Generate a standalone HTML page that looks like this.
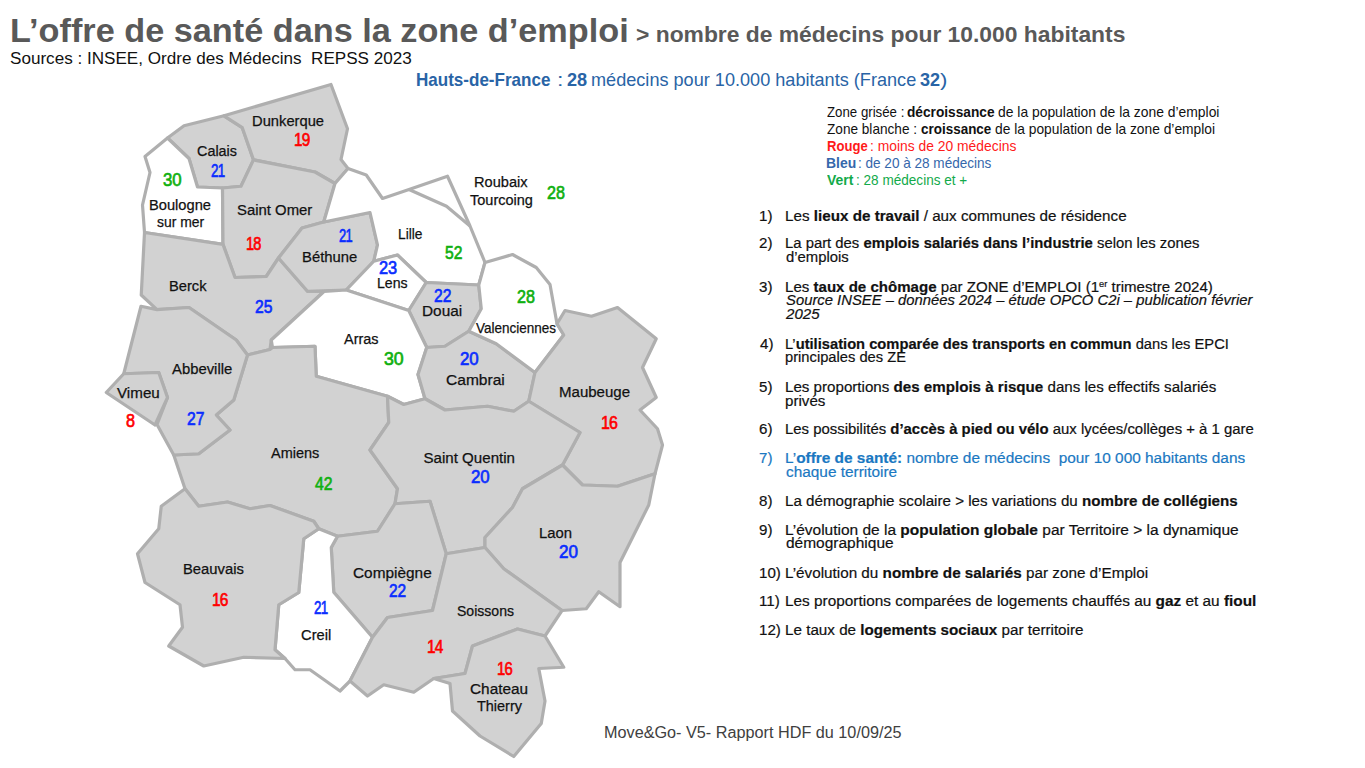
<!DOCTYPE html><html><head><meta charset="utf-8"><style>
html,body{margin:0;padding:0;width:1365px;height:768px;overflow:hidden;background:#fff;}
body{position:relative;font-family:"Liberation Sans",sans-serif;}
.t{position:absolute;white-space:nowrap;line-height:1;transform-origin:0 0;}
.L{-webkit-text-stroke:0.2px currentColor}
sup{font-size:0.62em;vertical-align:0;position:relative;top:-0.55em;line-height:0}
svg{position:absolute;left:0;top:0}
</style></head><body>

<svg width="1365" height="768" viewBox="0 0 1365 768">
<g stroke="#afafaf" stroke-width="3.2" stroke-linejoin="round">
<polygon points="167.5,138 184,125.8 224,115.8 242.3,127.7 253.5,159.9 241,186.25 222.5,188 197.5,187 189,158.5" fill="#d2d2d2"/>
<polygon points="224,115.8 331,84.5 347.5,128.75 341,159.5 348,168.5 335,183.5 315,172 253.5,159.9 242.3,127.7" fill="#d2d2d2"/>
<polygon points="145,156.5 167.5,138 189,158.5 197.5,187 222.5,188 223,244.4 144.5,232.5 142.5,205 150,172.5" fill="#fff"/>
<polygon points="253.5,159.9 315,172 335,183.5 323.75,222 302,228 278.5,258 266.25,276.5 235,277.5 223,244.4 222.5,188 241,186.25" fill="#d2d2d2"/>
<polygon points="144.5,232.5 223,244.4 235,277.5 266.25,276.5 278.5,258 307.5,291.25 324,291.5 271.25,340 270,349.5 247.5,355 236.25,340 189,307.5 157,309.6 141.25,295" fill="#d2d2d2"/>
<polygon points="302,228 323.75,222 370,212.5 377.5,245 373.75,261.25 346.25,290 307.5,291.25 278.5,258" fill="#d2d2d2"/>
<polygon points="348,168.5 366.25,175 382.5,198.5 409,189.5 447.5,176.25 470,226 485,262.5 478.75,285 426.25,282.5 397.5,255 373.75,261.25 377.5,245 370,212.5 323.75,222 335,183.5" fill="#fff"/>
<polygon points="373.75,261.25 397.5,255 426.25,282.5 408.75,310.5 346.25,290" fill="#fff"/>
<polygon points="426.25,282.5 478.75,285 481.25,308.75 468.75,331.25 445,346.25 426.75,347.5 408.75,310.5" fill="#d2d2d2"/>
<polygon points="324,291.5 346.25,290 408.75,310.5 426.75,347.5 418,374.5 425,398.75 403.75,404.5 387.5,396.25 316.25,376.25 315,346.25 272.5,347.5 271.25,340" fill="#fff"/>
<polygon points="247.5,355 270,349.5 272.5,347.5 315,346.25 316.25,376.25 387.5,396.25 388.75,422.5 370,450 397.5,488.75 395,503.75 377.5,531.25 337.5,536.25 318.75,528.75 313.75,521.25 270,505.5 250,508.75 227.5,502 198.75,506.25 185,488.75 173.75,455 198.75,453.75 230,430 216.25,415 233.75,400" fill="#d2d2d2"/>
<polygon points="141,306.25 157,309.6 189,307.5 236.25,340 247.5,355 233.75,400 216.25,415 230,430 198.75,453.75 173.75,455 157,424.5 167.5,397.5 158.75,372.5 123.75,373.75" fill="#d2d2d2"/>
<polygon points="123.75,373.75 158.75,372.5 167.5,397.5 155,425 106.25,392.5" fill="#d2d2d2"/>
<polygon points="426.75,347.5 445,346.25 468.75,331.25 496.25,343.75 535,372.5 528.75,401.25 513.75,411.25 487.5,406.25 445,410 425,398.75 418,374.5" fill="#d2d2d2"/>
<polygon points="478.75,285 485,262.5 512.5,254.5 536.25,267.5 550,284.5 557,323.75 563.75,335 535,372.5 496.25,343.75 468.75,331.25 481.25,308.75" fill="#fff"/>
<polygon points="557,323.75 565,310.5 591.5,316.25 617.5,307.5 656.25,338.75 642.5,367.5 656.25,397.5 640,410 657.5,428.75 662.5,445 655,473.75 617.5,486.25 582.5,485 562.5,465 580,432.5 528.75,401.25 535,372.5 563.75,335" fill="#d2d2d2"/>
<polygon points="370,450 388.75,422.5 387.5,396.25 403.75,404.5 425,398.75 445,410 487.5,406.25 513.75,411.25 528.75,401.25 580,432.5 562.5,465 522.5,488.75 512.5,507.5 485,537.5 485,547.5 446.25,553.75 430,501.25 395,503.75 397.5,488.75" fill="#d2d2d2"/>
<polygon points="562.5,465 582.5,485 617.5,486.25 655,473.75 648.75,505 620,562.5 620,606.75 598.75,591.75 586.25,608.75 562,610.5 503.75,568.75 485,547.5 485,537.5 512.5,507.5 522.5,488.75" fill="#d2d2d2"/>
<polygon points="337.5,536.25 377.5,531.25 395,503.75 430,501.25 446.25,553.75 432.5,610.5 387.5,617.5 372.5,637.25 333.75,592.25 331.25,547.5" fill="#d2d2d2"/>
<polygon points="318.75,528.75 337.5,536.25 331.25,547.5 333.75,592.25 372.5,637.25 350,681 340,691 310,669.75 295,669.75 285,658.5 275,649.75 278.75,604.75 298.75,592.5 303.75,538.75" fill="#fff"/>
<polygon points="185,488.75 198.75,506.25 227.5,502 250,508.75 270,505.5 313.75,521.25 318.75,528.75 303.75,538.75 298.75,592.5 278.75,604.75 275,649.75 285,658.5 243.75,657.25 203.75,666 168.75,646 182.5,627.25 180,604.75 145,582.5 137.5,553.75 158.75,528.75 161.25,506.25" fill="#d2d2d2"/>
<polygon points="372.5,637.25 387.5,617.5 432.5,610.5 446.25,553.75 485,547.5 503.75,568.75 562,610.5 545,636 517.5,629 472.5,646 465,673.5 433.75,678.5 413.75,692.25 383.75,684.75 367.5,696 350,681" fill="#d2d2d2"/>
<polygon points="433.75,678.5 465,673.5 472.5,646 517.5,629 545,636 563.75,667.25 538.75,668.5 545,701 541.25,723.5 513.75,756.5 480,736 452.5,711 450,683.5" fill="#d2d2d2"/>
<polyline points="409,189.5 446.5,206.25 470,226" fill="none"/>
</g></svg>
<div class="t" id="t0" style="left:252.01px;top:113.47px;font-size:15.1px;font-weight:400;color:#111111;transform:scaleX(0.9760);-webkit-text-stroke:0.25px #111;">Dunkerque</div>
<div class="t" id="t1" style="left:293.53px;top:131.99px;font-size:17.5px;font-weight:400;color:#ff0000;transform:scaleX(0.8750);-webkit-text-stroke:0.65px #ff0000;letter-spacing:-1px;">19</div>
<div class="t" id="t2" style="left:197.02px;top:143.47px;font-size:15.1px;font-weight:400;color:#111111;transform:scaleX(0.9524);-webkit-text-stroke:0.25px #111;">Calais</div>
<div class="t" id="t3" style="left:210.68px;top:162.74px;font-size:17.5px;font-weight:400;color:#0a2dff;transform:scaleX(0.7639);-webkit-text-stroke:0.65px #0a2dff;letter-spacing:-1px;">21</div>
<div class="t" id="t4" style="left:163.00px;top:171.99px;font-size:17.5px;font-weight:400;color:#10b010;transform:scaleX(0.9605);-webkit-text-stroke:0.65px #10b010;">30</div>
<div class="t" id="t5" style="left:149.03px;top:196.72px;font-size:15.1px;font-weight:400;color:#111111;transform:scaleX(0.9722);-webkit-text-stroke:0.25px #111;">Boulogne</div>
<div class="t" id="t6" style="left:157.00px;top:214.22px;font-size:15.1px;font-weight:400;color:#111111;transform:scaleX(0.9231);-webkit-text-stroke:0.25px #111;">sur mer</div>
<div class="t" id="t7" style="left:237.01px;top:202.22px;font-size:15.1px;font-weight:400;color:#111111;transform:scaleX(0.9868);-webkit-text-stroke:0.25px #111;">Saint Omer</div>
<div class="t" id="t8" style="left:245.54px;top:236.49px;font-size:17.5px;font-weight:400;color:#ff0000;transform:scaleX(0.8333);-webkit-text-stroke:0.65px #ff0000;letter-spacing:-1px;">18</div>
<div class="t" id="t9" style="left:338.57px;top:227.74px;font-size:17.5px;font-weight:400;color:#0a2dff;transform:scaleX(0.7361);-webkit-text-stroke:0.65px #0a2dff;letter-spacing:-1px;">21</div>
<div class="t" id="t10" style="left:302.01px;top:248.97px;font-size:15.1px;font-weight:400;color:#111111;transform:scaleX(0.9821);-webkit-text-stroke:0.25px #111;">Béthune</div>
<div class="t" id="t11" style="left:397.61px;top:225.97px;font-size:15.1px;font-weight:400;color:#111111;transform:scaleX(0.9135);-webkit-text-stroke:0.25px #111;">Lille</div>
<div class="t" id="t12" style="left:473.52px;top:174.22px;font-size:15.1px;font-weight:400;color:#111111;transform:scaleX(0.9682);-webkit-text-stroke:0.25px #111;">Roubaix</div>
<div class="t" id="t13" style="left:470.00px;top:191.72px;font-size:15.1px;font-weight:400;color:#111111;transform:scaleX(0.9615);-webkit-text-stroke:0.25px #111;">Tourcoing</div>
<div class="t" id="t14" style="left:547.04px;top:185.24px;font-size:17.5px;font-weight:400;color:#10b010;transform:scaleX(0.9211);-webkit-text-stroke:0.65px #10b010;">28</div>
<div class="t" id="t15" style="left:445.05px;top:245.24px;font-size:17.5px;font-weight:400;color:#10b010;transform:scaleX(0.8947);-webkit-text-stroke:0.65px #10b010;">52</div>
<div class="t" id="t16" style="left:378.55px;top:260.24px;font-size:17.5px;font-weight:400;color:#0a2dff;transform:scaleX(0.9342);-webkit-text-stroke:0.65px #0a2dff;">23</div>
<div class="t" id="t17" style="left:377.03px;top:274.72px;font-size:15.1px;font-weight:400;color:#111111;transform:scaleX(0.9375);-webkit-text-stroke:0.25px #111;">Lens</div>
<div class="t" id="t18" style="left:433.58px;top:287.74px;font-size:17.5px;font-weight:400;color:#0a2dff;transform:scaleX(0.8947);-webkit-text-stroke:0.65px #0a2dff;">22</div>
<div class="t" id="t19" style="left:422.48px;top:303.47px;font-size:15.1px;font-weight:400;color:#111111;transform:scaleX(1.0197);-webkit-text-stroke:0.25px #111;">Douai</div>
<div class="t" id="t20" style="left:516.52px;top:288.99px;font-size:17.5px;font-weight:400;color:#10b010;transform:scaleX(0.9211);-webkit-text-stroke:0.65px #10b010;">28</div>
<div class="t" id="t21" style="left:476.47px;top:319.72px;font-size:15.1px;font-weight:400;color:#111111;transform:scaleX(0.8944);-webkit-text-stroke:0.25px #111;">Valenciennes</div>
<div class="t" id="t22" style="left:343.51px;top:330.97px;font-size:15.1px;font-weight:400;color:#111111;transform:scaleX(0.9583);-webkit-text-stroke:0.25px #111;">Arras</div>
<div class="t" id="t23" style="left:169.03px;top:277.72px;font-size:15.1px;font-weight:400;color:#111111;transform:scaleX(0.9737);-webkit-text-stroke:0.25px #111;">Berck</div>
<div class="t" id="t24" style="left:255.05px;top:298.99px;font-size:17.5px;font-weight:400;color:#0a2dff;transform:scaleX(0.8947);-webkit-text-stroke:0.65px #0a2dff;">25</div>
<div class="t" id="t25" style="left:383.50px;top:350.99px;font-size:17.5px;font-weight:400;color:#10b010;transform:scaleX(1.0132);-webkit-text-stroke:0.65px #10b010;">30</div>
<div class="t" id="t26" style="left:171.50px;top:360.97px;font-size:15.1px;font-weight:400;color:#111111;transform:scaleX(0.9836);-webkit-text-stroke:0.25px #111;">Abbeville</div>
<div class="t" id="t27" style="left:117.00px;top:385.22px;font-size:15.1px;font-weight:400;color:#111111;transform:scaleX(1.0060);-webkit-text-stroke:0.25px #111;">Vimeu</div>
<div class="t" id="t28" style="left:126.48px;top:412.74px;font-size:17.5px;font-weight:400;color:#ff0000;transform:scaleX(0.9250);-webkit-text-stroke:0.65px #ff0000;">8</div>
<div class="t" id="t29" style="left:187.05px;top:410.74px;font-size:17.5px;font-weight:400;color:#0a2dff;transform:scaleX(0.8947);-webkit-text-stroke:0.65px #0a2dff;">27</div>
<div class="t" id="t30" style="left:460.00px;top:351.49px;font-size:17.5px;font-weight:400;color:#0a2dff;transform:scaleX(0.9625);-webkit-text-stroke:0.65px #0a2dff;">20</div>
<div class="t" id="t31" style="left:446.49px;top:372.22px;font-size:15.1px;font-weight:400;color:#111111;transform:scaleX(1.0312);-webkit-text-stroke:0.25px #111;">Cambrai</div>
<div class="t" id="t32" style="left:558.50px;top:384.22px;font-size:15.1px;font-weight:400;color:#111111;transform:scaleX(0.9965);-webkit-text-stroke:0.25px #111;">Maubeuge</div>
<div class="t" id="t33" style="left:600.57px;top:415.24px;font-size:17.5px;font-weight:400;color:#ff0000;transform:scaleX(0.9118);-webkit-text-stroke:0.65px #ff0000;letter-spacing:-1px;">16</div>
<div class="t" id="t34" style="left:270.98px;top:445.22px;font-size:15.1px;font-weight:400;color:#111111;transform:scaleX(0.9608);-webkit-text-stroke:0.25px #111;">Amiens</div>
<div class="t" id="t35" style="left:314.95px;top:475.99px;font-size:17.5px;font-weight:400;color:#10b010;transform:scaleX(0.9000);-webkit-text-stroke:0.65px #10b010;">42</div>
<div class="t" id="t36" style="left:182.52px;top:560.97px;font-size:15.1px;font-weight:400;color:#111111;transform:scaleX(0.9795);-webkit-text-stroke:0.25px #111;">Beauvais</div>
<div class="t" id="t37" style="left:212.12px;top:591.99px;font-size:17.5px;font-weight:400;color:#ff0000;transform:scaleX(0.8824);-webkit-text-stroke:0.65px #ff0000;letter-spacing:-1px;">16</div>
<div class="t" id="t38" style="left:353.49px;top:564.72px;font-size:15.1px;font-weight:400;color:#111111;transform:scaleX(1.0197);-webkit-text-stroke:0.25px #111;">Compiègne</div>
<div class="t" id="t39" style="left:388.53px;top:582.74px;font-size:17.5px;font-weight:400;color:#0a2dff;transform:scaleX(0.8816);-webkit-text-stroke:0.65px #0a2dff;">22</div>
<div class="t" id="t40" style="left:314.12px;top:600.24px;font-size:17.5px;font-weight:400;color:#0a2dff;transform:scaleX(0.7639);-webkit-text-stroke:0.65px #0a2dff;letter-spacing:-1px;">21</div>
<div class="t" id="t41" style="left:300.52px;top:626.97px;font-size:15.1px;font-weight:400;color:#111111;transform:scaleX(0.9750);-webkit-text-stroke:0.25px #111;">Creil</div>
<div class="t" id="t42" style="left:423.50px;top:450.22px;font-size:15.1px;font-weight:400;color:#111111;-webkit-text-stroke:0.25px #111;">Saint Quentin</div>
<div class="t" id="t43" style="left:470.53px;top:468.99px;font-size:17.5px;font-weight:400;color:#0a2dff;transform:scaleX(0.9605);-webkit-text-stroke:0.65px #0a2dff;">20</div>
<div class="t" id="t44" style="left:539.01px;top:524.72px;font-size:15.1px;font-weight:400;color:#111111;transform:scaleX(0.9848);-webkit-text-stroke:0.25px #111;">Laon</div>
<div class="t" id="t45" style="left:559.01px;top:543.99px;font-size:17.5px;font-weight:400;color:#0a2dff;transform:scaleX(0.9737);-webkit-text-stroke:0.65px #0a2dff;">20</div>
<div class="t" id="t46" style="left:457.03px;top:603.47px;font-size:15.1px;font-weight:400;color:#111111;transform:scaleX(0.9303);-webkit-text-stroke:0.25px #111;">Soissons</div>
<div class="t" id="t47" style="left:427.12px;top:638.74px;font-size:17.5px;font-weight:400;color:#ff0000;transform:scaleX(0.8824);-webkit-text-stroke:0.65px #ff0000;letter-spacing:-1px;">14</div>
<div class="t" id="t48" style="left:496.54px;top:661.24px;font-size:17.5px;font-weight:400;color:#ff0000;transform:scaleX(0.8472);-webkit-text-stroke:0.65px #ff0000;letter-spacing:-1px;">16</div>
<div class="t" id="t49" style="left:470.00px;top:680.72px;font-size:15.1px;font-weight:400;color:#111111;transform:scaleX(1.0175);-webkit-text-stroke:0.25px #111;">Chateau</div>
<div class="t" id="t50" style="left:477.00px;top:698.22px;font-size:15.1px;font-weight:400;color:#111111;transform:scaleX(0.9574);-webkit-text-stroke:0.25px #111;">Thierry</div>
<div class="t" id="t51" style="left:10.38px;top:13.59px;font-size:33.8px;font-weight:700;color:#595959;transform:scaleX(1.0137);">L’offre de santé dans la zone d’emploi</div>
<div class="t" id="t52" style="left:636.38px;top:24.35px;font-size:22.5px;font-weight:700;color:#595959;transform:scaleX(1.0152);">&gt; nombre de médecins pour 10.000 habitants</div>
<div class="t" id="t53" style="left:9.93px;top:51.46px;font-size:16px;font-weight:400;color:#111;transform:scaleX(1.0680);">Sources : INSEE, Ordre des Médecins&nbsp; REPSS 2023</div>
<div class="t" id="t54" style="left:416.06px;top:71.73px;font-size:17.8px;font-weight:700;color:#2964a6;transform:scaleX(0.9576);">Hauts-de-France</div>
<div class="t" id="t55" style="left:556.78px;top:71.73px;font-size:17.8px;font-weight:400;color:#2964a6;transform:scaleX(1.3000);">:</div>
<div class="t" id="t56" style="left:566.60px;top:71.73px;font-size:17.8px;font-weight:700;color:#2964a6;transform:scaleX(1.0211);">28</div>
<div class="t" id="t57" style="left:590.58px;top:71.73px;font-size:17.8px;font-weight:400;color:#2964a6;transform:scaleX(1.0186);">médecins pour 10.000 habitants (France</div>
<div class="t" id="t58" style="left:920.40px;top:71.73px;font-size:17.8px;font-weight:700;color:#2964a6;transform:scaleX(1.0158);">32</div>
<div class="t" id="t59" style="left:940.42px;top:71.73px;font-size:17.8px;font-weight:400;color:#2964a6;transform:scaleX(1.2500);">)</div>
<div class="t" id="t60" style="left:827.42px;top:104.58px;font-size:14.2px;font-weight:400;color:#111;transform:scaleX(0.9341);">Zone grisée :</div>
<div class="t" id="t61" style="left:907.41px;top:104.58px;font-size:14.2px;font-weight:700;color:#111;transform:scaleX(0.9656);">décroissance</div>
<div class="t" id="t62" style="left:998.01px;top:104.58px;font-size:14.2px;font-weight:400;color:#111;transform:scaleX(0.9782);">de la population de la zone d’emploi</div>
<div class="t" id="t63" style="left:827.41px;top:121.73px;font-size:14.2px;font-weight:400;color:#111;transform:scaleX(0.9591);">Zone blanche :</div>
<div class="t" id="t64" style="left:920.61px;top:121.73px;font-size:14.2px;font-weight:700;color:#111;transform:scaleX(0.9486);">croissance</div>
<div class="t" id="t65" style="left:995.00px;top:121.73px;font-size:14.2px;font-weight:400;color:#111;transform:scaleX(0.9721);">de la population de la zone d’emploi</div>
<div class="t" id="t66" style="left:827.42px;top:138.88px;font-size:14.2px;font-weight:700;color:#ff1a1a;transform:scaleX(0.9233);">Rouge</div>
<div class="t" id="t67" style="left:869.63px;top:138.88px;font-size:14.2px;font-weight:400;color:#ff1a1a;transform:scaleX(0.9770);">: moins de 20 médecins</div>
<div class="t" id="t68" style="left:826.42px;top:156.03px;font-size:14.2px;font-weight:700;color:#3567ab;transform:scaleX(0.9828);">Bleu</div>
<div class="t" id="t69" style="left:858.46px;top:156.03px;font-size:14.2px;font-weight:400;color:#3567ab;transform:scaleX(0.9551);">: de 20 à 28 médecins</div>
<div class="t" id="t70" style="left:827.41px;top:173.18px;font-size:14.2px;font-weight:700;color:#12aa4a;transform:scaleX(0.9815);">Vert</div>
<div class="t" id="t71" style="left:856.46px;top:173.18px;font-size:14.2px;font-weight:400;color:#12aa4a;transform:scaleX(0.9565);">: 28 médecins et +</div>
<div class="t" id="t72" style="left:604.37px;top:724.63px;font-size:15.8px;font-weight:400;color:#404040;transform:scaleX(1.0267);">Move&amp;Go- V5- Rapport HDF du 10/09/25</div>
<div class="t L" id="t73" style="left:759.42px;top:207.58px;font-size:15.5px;font-weight:400;color:#111;transform:scaleX(0.9756);">1)</div>
<div class="t L" id="t74" style="left:784.82px;top:207.58px;font-size:15.5px;font-weight:400;color:#111;transform:scaleX(0.9813);">Les <b>lieux de travail</b> / aux communes de résidence</div>
<div class="t L" id="t75" style="left:759.42px;top:235.48px;font-size:15.5px;font-weight:400;color:#111;transform:scaleX(0.9756);">2)</div>
<div class="t L" id="t76" style="left:784.85px;top:235.48px;font-size:15.5px;font-weight:400;color:#111;transform:scaleX(0.9580);">La part des <b>emplois salariés dans l’industrie</b> selon les zones</div>
<div class="t L" id="t77" style="left:785.80px;top:249.08px;font-size:15.5px;font-weight:400;color:#111;transform:scaleX(0.9580);">d’emplois</div>
<div class="t L" id="t78" style="left:759.42px;top:278.88px;font-size:15.5px;font-weight:400;color:#111;transform:scaleX(0.9756);">3)</div>
<div class="t L" id="t79" style="left:784.83px;top:278.88px;font-size:15.5px;font-weight:400;color:#111;transform:scaleX(0.9721);">Les <b>taux de chômage</b> par ZONE d’EMPLOI (1<sup>er</sup> trimestre 2024)</div>
<div class="t L" id="t80" style="left:785.80px;top:292.23px;font-size:15.5px;font-weight:400;color:#111;transform:scaleX(0.9564);"><i>Source INSEE – données 2024 – étude OPCO C2i – publication février</i></div>
<div class="t L" id="t81" style="left:785.80px;top:306.23px;font-size:15.5px;font-weight:400;color:#111;transform:scaleX(0.9721);"><i>2025</i></div>
<div class="t L" id="t82" style="left:760.40px;top:335.58px;font-size:15.5px;font-weight:400;color:#111;transform:scaleX(0.9756);">4)</div>
<div class="t L" id="t83" style="left:784.86px;top:335.58px;font-size:15.5px;font-weight:400;color:#111;transform:scaleX(0.9489);">L’<b>utilisation comparée des transports en commun</b> dans les EPCI</div>
<div class="t L" id="t84" style="left:784.86px;top:349.38px;font-size:15.5px;font-weight:400;color:#111;transform:scaleX(0.9489);">principales des ZE</div>
<div class="t L" id="t85" style="left:759.42px;top:379.23px;font-size:15.5px;font-weight:400;color:#111;transform:scaleX(0.9756);">5)</div>
<div class="t L" id="t86" style="left:784.83px;top:379.23px;font-size:15.5px;font-weight:400;color:#111;transform:scaleX(0.9764);">Les proportions <b>des emplois à risque</b> dans les effectifs salariés</div>
<div class="t L" id="t87" style="left:784.83px;top:392.98px;font-size:15.5px;font-weight:400;color:#111;transform:scaleX(0.9764);">privés</div>
<div class="t L" id="t88" style="left:759.42px;top:421.38px;font-size:15.5px;font-weight:400;color:#111;transform:scaleX(0.9756);">6)</div>
<div class="t L" id="t89" style="left:784.84px;top:421.38px;font-size:15.5px;font-weight:400;color:#111;transform:scaleX(0.9623);">Les possibilités <b>d’accès à pied ou vélo</b> aux lycées/collèges + à 1 gare</div>
<div class="t L" id="t90" style="left:759.42px;top:449.88px;font-size:15.5px;font-weight:400;color:#1a78c2;transform:scaleX(0.9756);">7)</div>
<div class="t L" id="t91" style="left:784.81px;top:449.88px;font-size:15.5px;font-weight:400;color:#1a78c2;transform:scaleX(0.9926);">L’<b>offre de santé:</b> nombre de médecins&nbsp; pour 10 000 habitants dans</div>
<div class="t L" id="t92" style="left:785.80px;top:464.48px;font-size:15.5px;font-weight:400;color:#1a78c2;transform:scaleX(0.9926);">chaque territoire</div>
<div class="t L" id="t93" style="left:759.42px;top:493.48px;font-size:15.5px;font-weight:400;color:#111;transform:scaleX(0.9756);">8)</div>
<div class="t L" id="t94" style="left:784.82px;top:493.48px;font-size:15.5px;font-weight:400;color:#111;transform:scaleX(0.9777);">La démographie scolaire &gt; les variations du <b>nombre de collégiens</b></div>
<div class="t L" id="t95" style="left:759.42px;top:521.58px;font-size:15.5px;font-weight:400;color:#111;transform:scaleX(0.9756);">9)</div>
<div class="t L" id="t96" style="left:784.80px;top:521.58px;font-size:15.5px;font-weight:400;color:#111;transform:scaleX(0.9989);">L’évolution de la <b>population globale</b> par Territoire &gt; la dynamique</div>
<div class="t L" id="t97" style="left:785.80px;top:535.08px;font-size:15.5px;font-weight:400;color:#111;transform:scaleX(0.9989);">démographique</div>
<div class="t L" id="t98" style="left:759.42px;top:564.88px;font-size:15.5px;font-weight:400;color:#111;transform:scaleX(0.9756);">10)</div>
<div class="t L" id="t99" style="left:784.82px;top:564.88px;font-size:15.5px;font-weight:400;color:#111;transform:scaleX(0.9847);">L’évolution du <b>nombre de salariés</b> par zone d’Emploi</div>
<div class="t L" id="t100" style="left:759.42px;top:592.98px;font-size:15.5px;font-weight:400;color:#111;transform:scaleX(0.9756);">11)</div>
<div class="t L" id="t101" style="left:784.81px;top:592.98px;font-size:15.5px;font-weight:400;color:#111;transform:scaleX(0.9916);">Les proportions comparées de logements chauffés au <b>gaz</b> et au <b>fioul</b></div>
<div class="t L" id="t102" style="left:759.42px;top:621.98px;font-size:15.5px;font-weight:400;color:#111;transform:scaleX(0.9756);">12)</div>
<div class="t L" id="t103" style="left:784.82px;top:621.98px;font-size:15.5px;font-weight:400;color:#111;transform:scaleX(0.9815);">Le taux de <b>logements sociaux</b> par territoire</div>
</body></html>
